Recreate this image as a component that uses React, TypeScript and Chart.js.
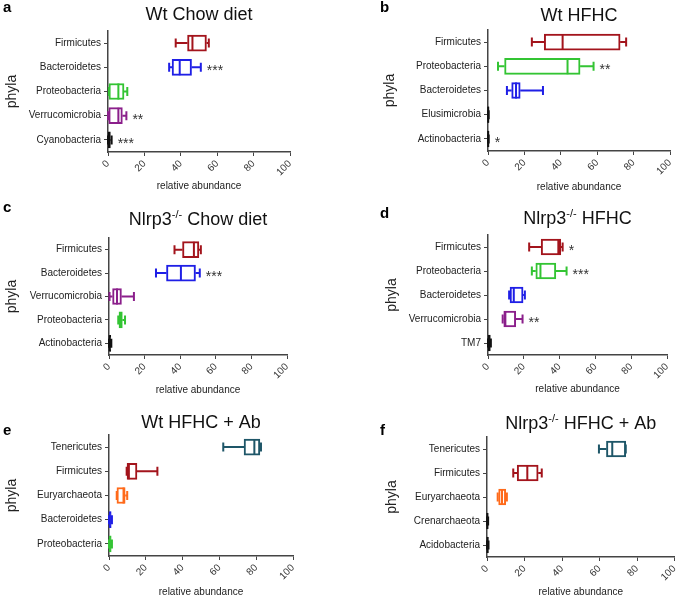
import React, { useEffect, useRef } from "react";
import { Chart, registerables } from "chart.js";

Chart.register(...registerables);

const FONT = '"Liberation Sans", Arial, Helvetica, sans-serif';
Chart.defaults.font.family = FONT;

// ---------------- DATA ----------------
// Panel a: Wt Chow diet
const aPhyla = ["Firmicutes", "Bacteroidetes", "Proteobacteria", "Verrucomicrobia", "Cyanobacteria"];
const aMin = [37.2, 33.6, 0.5, 0.0, 0.0];
const aQ1 = [43.7, 35.2, 0.5, 0.4, 0.2];
const aMed = [46.4, 39.4, 5.7, 5.7, 0.6];
const aQ3 = [54.1, 45.9, 8.8, 7.9, 1.3];
const aMax = [55.4, 51.0, 10.6, 10.1, 2.0];
const aStars = ["", "***", "", "**", "***"];

// Panel b: Wt HFHC
const bPhyla = ["Firmicutes", "Proteobacteria", "Bacteroidetes", "Elusimicrobia", "Actinobacteria"];
const bMin = [24.1, 5.5, 10.4, 0.0, 0.0];
const bQ1 = [30.9, 9.1, 13.0, 0.0, 0.0];
const bMed = [41.0, 43.7, 15.4, 0.1, 0.1];
const bQ3 = [72.6, 50.6, 17.7, 0.3, 0.3];
const bMax = [75.9, 58.0, 30.2, 0.4, 0.4];
const bStars = ["", "**", "", "", "*"];

// Panel c: Nlrp3-/- Chow diet
const cPhyla = ["Firmicutes", "Bacteroidetes", "Verrucomicrobia", "Proteobacteria", "Actinobacteria"];
const cMin = [36.8, 26.4, 0.3, 5.2, 0.0];
const cQ1 = [41.3, 32.3, 2.0, 5.6, 0.0];
const cMed = [47.7, 40.4, 4.5, 6.2, 0.4];
const cQ3 = [50.5, 48.6, 7.0, 7.5, 1.0];
const cMax = [51.6, 51.0, 14.0, 9.0, 1.3];
const cStars = ["", "***", "", "", ""];

// Panel d: Nlrp3-/- HFHC
const dPhyla = ["Firmicutes", "Proteobacteria", "Bacteroidetes", "Verrucomicrobia", "TM7"];
const dMin = [23.0, 24.5, 11.8, 8.2, 0.0];
const dQ1 = [29.7, 26.7, 12.3, 8.8, 0.0];
const dMed = [39.3, 29.3, 14.4, 9.7, 0.6];
const dQ3 = [40.6, 37.9, 19.6, 15.5, 1.3];
const dMax = [41.7, 43.9, 20.6, 19.3, 1.6];
const dStars = ["*", "***", "", "**", ""];

// Panel e: Wt HFHC + Ab
const ePhyla = ["Tenericutes", "Firmicutes", "Euryarchaeota", "Bacteroidetes", "Proteobacteria"];
const eMin = [62.1, 9.6, 4.2, 0.0, 0.0];
const eQ1 = [73.4, 9.8, 4.3, 0.0, 0.0];
const eMed = [79.0, 10.8, 7.9, 0.5, 0.5];
const eQ3 = [82.0, 15.2, 8.8, 1.2, 1.2];
const eMax = [82.6, 26.3, 9.9, 1.6, 1.6];
const eStars = ["", "", "", "", ""];

// Panel f: Nlrp3-/- HFHC + Ab
const fPhyla = ["Tenericutes", "Firmicutes", "Euryarchaeota", "Crenarchaeota", "Acidobacteria"];
const fMin = [59.7, 14.0, 5.7, 0.0, 0.0];
const fQ1 = [63.7, 16.1, 6.2, 0.0, 0.0];
const fMed = [66.8, 21.5, 8.0, 0.2, 0.3];
const fQ3 = [74.0, 27.3, 10.0, 0.5, 0.6];
const fMax = [74.0, 29.2, 10.6, 0.6, 0.8];
const fStars = ["", "", "", "", ""];

const xTicks = [0, 20, 40, 60, 80, 100];
const xAxisTitle = "relative abundance";
const yAxisTitle = "phyla";

// ---------------- STYLES ----------------
const phylumColors: Record<string, string> = {
  Firmicutes: "#a3141c",
  Bacteroidetes: "#1f1fe6",
  Proteobacteria: "#33c433",
  Verrucomicrobia: "#8b1f8b",
  Cyanobacteria: "#111111",
  Elusimicrobia: "#111111",
  Actinobacteria: "#111111",
  TM7: "#111111",
  Tenericutes: "#1e5668",
  Euryarchaeota: "#ff6a1a",
  Crenarchaeota: "#111111",
  Acidobacteria: "#111111",
};

type PanelData = {
  letter: string;
  titleMain: string;
  titleSup: string;
  titleRest: string;
  phyla: string[];
  min: number[];
  q1: number[];
  med: number[];
  q3: number[];
  max: number[];
  stars: string[];
};

type PanelLayout = {
  left: number; top: number; width: number; height: number;
  areaLeft: number; areaRight: number; areaTop: number; areaBottom: number;
  titleY: number; letterX: number; letterY: number;
  yTitlePad: number; xTitlePad: number;
};

const panels: { data: PanelData; layout: PanelLayout }[] = [
  {
    data: { letter: "a", titleMain: "Wt Chow diet", titleSup: "", titleRest: "", phyla: aPhyla, min: aMin, q1: aQ1, med: aMed, q3: aQ3, max: aMax, stars: aStars },
    layout: { left: 0, top: 0, width: 342, height: 200, areaLeft: 108, areaRight: 290, areaTop: 31, areaBottom: 152, titleY: 13, letterX: 3, letterY: 12, yTitlePad: 4.7, xTitlePad: 8.3 },
  },
  {
    data: { letter: "b", titleMain: "Wt HFHC", titleSup: "", titleRest: "", phyla: bPhyla, min: bMin, q1: bQ1, med: bMed, q3: bQ3, max: bMax, stars: bStars },
    layout: { left: 342, top: 0, width: 343, height: 200, areaLeft: 146, areaRight: 328, areaTop: 30, areaBottom: 151, titleY: 14, letterX: 38, letterY: 12, yTitlePad: 41, xTitlePad: 7.7 },
  },
  {
    data: { letter: "c", titleMain: "Nlrp3", titleSup: "-/-", titleRest: " Chow diet", phyla: cPhyla, min: cMin, q1: cQ1, med: cMed, q3: cQ3, max: cMax, stars: cStars },
    layout: { left: 0, top: 200, width: 342, height: 200, areaLeft: 109, areaRight: 287, areaTop: 38, areaBottom: 155, titleY: 18, letterX: 3, letterY: 12, yTitlePad: 4.7, xTitlePad: 5 },
  },
  {
    data: { letter: "d", titleMain: "Nlrp3", titleSup: "-/-", titleRest: " HFHC", phyla: dPhyla, min: dMin, q1: dQ1, med: dMed, q3: dQ3, max: dMax, stars: dStars },
    layout: { left: 342, top: 200, width: 343, height: 200, areaLeft: 146, areaRight: 325, areaTop: 35, areaBottom: 155, titleY: 17, letterX: 38, letterY: 18, yTitlePad: 42.7, xTitlePad: 5.7 },
  },
  {
    data: { letter: "e", titleMain: "Wt HFHC + Ab", titleSup: "", titleRest: "", phyla: ePhyla, min: eMin, q1: eQ1, med: eMed, q3: eQ3, max: eMax, stars: eStars },
    layout: { left: 0, top: 400, width: 342, height: 198, areaLeft: 109, areaRight: 293, areaTop: 35, areaBottom: 156, titleY: 21, letterX: 3, letterY: 35, yTitlePad: 4.7, xTitlePad: 0.3 },
  },
  {
    data: { letter: "f", titleMain: "Nlrp3", titleSup: "-/-", titleRest: " HFHC + Ab", phyla: fPhyla, min: fMin, q1: fQ1, med: fMed, q3: fQ3, max: fMax, stars: fStars },
    layout: { left: 342, top: 400, width: 343, height: 198, areaLeft: 145, areaRight: 338, areaTop: 37, areaBottom: 157, titleY: 22, letterX: 38, letterY: 35, yTitlePad: 42.7, xTitlePad: 0.3 },
  },
];

const BOX_H = 16;
const CAP_H = 9;
const AXIS_COLOR = "#444444";

const boxPlugin = {
  id: "boxExtras",
  afterDatasetsDraw(chart: any, _args: any, opts: any) {
    const d: PanelData = opts.data;
    const { ctx } = chart;
    const x = chart.scales.x;
    const y = chart.scales.y;
    const px = (v: number) => x.getPixelForValue(v);
    ctx.save();
    ctx.lineWidth = 2;
    ctx.lineCap = "butt";
    d.phyla.forEach((p, i) => {
      const cy = y.getPixelForValue(i);
      ctx.strokeStyle = phylumColors[p];
      ctx.beginPath();
      ctx.moveTo(px(d.min[i]), cy);
      ctx.lineTo(px(d.q1[i]), cy);
      ctx.moveTo(px(d.q3[i]), cy);
      ctx.lineTo(px(d.max[i]), cy);
      ctx.moveTo(px(d.min[i]), cy - CAP_H / 2);
      ctx.lineTo(px(d.min[i]), cy + CAP_H / 2);
      ctx.moveTo(px(d.max[i]), cy - CAP_H / 2);
      ctx.lineTo(px(d.max[i]), cy + CAP_H / 2);
      ctx.moveTo(px(d.med[i]), cy - BOX_H / 2);
      ctx.lineTo(px(d.med[i]), cy + BOX_H / 2);
      ctx.stroke();
      if (d.stars[i]) {
        ctx.fillStyle = "#333333";
        ctx.font = `14px ${FONT}`;
        ctx.textAlign = "left";
        ctx.textBaseline = "alphabetic";
        ctx.fillText(d.stars[i], px(d.max[i]) + 6, cy + 8);
      }
    });
    ctx.restore();
  },
  afterDraw(chart: any, _args: any, opts: any) {
    const d: PanelData = opts.data;
    const L: PanelLayout = opts.layout;
    const { ctx, chartArea } = chart;
    ctx.save();
    ctx.fillStyle = "#111111";
    ctx.textBaseline = "alphabetic";
    ctx.textAlign = "left";
    const mainFont = `18px ${FONT}`;
    const supFont = `11px ${FONT}`;
    ctx.font = mainFont;
    const w1 = ctx.measureText(d.titleMain).width;
    const w3 = ctx.measureText(d.titleRest).width;
    ctx.font = supFont;
    const w2 = d.titleSup ? ctx.measureText(d.titleSup).width : 0;
    const total = w1 + w2 + w3;
    const cx = (chartArea.left + chartArea.right) / 2;
    let sx = cx - total / 2;
    const base = L.titleY + 6.5;
    ctx.font = mainFont;
    ctx.fillText(d.titleMain, sx, base);
    sx += w1;
    if (d.titleSup) {
      ctx.font = supFont;
      ctx.fillText(d.titleSup, sx, base - 7);
      sx += w2;
    }
    if (d.titleRest) {
      ctx.font = mainFont;
      ctx.fillText(d.titleRest, sx, base);
    }
    ctx.font = `bold 15px ${FONT}`;
    ctx.fillStyle = "#000000";
    ctx.fillText(d.letter, L.letterX, L.letterY);
    ctx.restore();
  },
};

function Panel({ data, layout }: { data: PanelData; layout: PanelLayout }) {
  const ref = useRef<HTMLCanvasElement>(null);
  useEffect(() => {
    const L = layout;
    const chart = new Chart(ref.current as HTMLCanvasElement, {
      type: "bar",
      data: {
        labels: data.phyla,
        datasets: [
          {
            data: data.q1.map((v, i) => [v, data.q3[i]]) as any,
            backgroundColor: "#ffffff",
            borderColor: data.phyla.map((p) => phylumColors[p]),
            borderWidth: 2,
            borderSkipped: false,
            barThickness: BOX_H,
          },
        ],
      },
      options: {
        indexAxis: "y",
        responsive: false,
        animation: false,
        layout: {
          padding: { top: L.areaTop, right: L.width - L.areaRight, bottom: 0, left: 0 },
        },
        plugins: {
          legend: { display: false },
          tooltip: { enabled: false },
          title: { display: false },
          boxExtras: { data, layout },
        } as any,
        scales: {
          x: {
            type: "linear",
            min: xTicks[0],
            max: xTicks[xTicks.length - 1],
            afterBuildTicks: (s: any) => {
              s.ticks = xTicks.map((v) => ({ value: v }));
            },
            ticks: {
              minRotation: 45,
              maxRotation: 45,
              font: { size: 10 },
              color: "#333333",
              padding: 2,
            },
            grid: { drawOnChartArea: false, drawTicks: true, tickLength: 4, color: AXIS_COLOR, lineWidth: 1 },
            border: { display: true, color: AXIS_COLOR, width: 1.5 },
            title: {
              display: true,
              text: xAxisTitle,
              font: { size: 10, lineHeight: 1 },
              color: "#222222",
              padding: { top: 0, bottom: L.xTitlePad },
            },
            afterFit: (s: any) => {
              s.height = L.height - L.areaBottom;
            },
          },
          y: {
            type: "category",
            offset: true,
            ticks: { font: { size: 10 }, color: "#222222", padding: 3 },
            grid: { offset: false, drawOnChartArea: false, drawTicks: true, tickLength: 4, color: AXIS_COLOR, lineWidth: 1 },
            border: { display: true, color: AXIS_COLOR, width: 1.5 },
            title: {
              display: true,
              text: yAxisTitle,
              font: { size: 14, lineHeight: 1 },
              color: "#222222",
              padding: { top: L.yTitlePad, bottom: 0 },
            },
            afterFit: (s: any) => {
              s.width = L.areaLeft;
            },
          },
        } as any,
      },
      plugins: [boxPlugin],
    });
    return () => chart.destroy();
  }, [data, layout]);
  return (
    <canvas
      ref={ref}
      width={layout.width}
      height={layout.height}
      style={{ position: "absolute", left: layout.left, top: layout.top, width: layout.width, height: layout.height }}
    />
  );
}

export default function App() {
  return (
    <div style={{ position: "absolute", left: 0, top: 0, width: 685, height: 598, background: "#ffffff", overflow: "hidden" }}>
      {panels.map((p, i) => (
        <Panel key={i} data={p.data} layout={p.layout} />
      ))}
    </div>
  );
}
